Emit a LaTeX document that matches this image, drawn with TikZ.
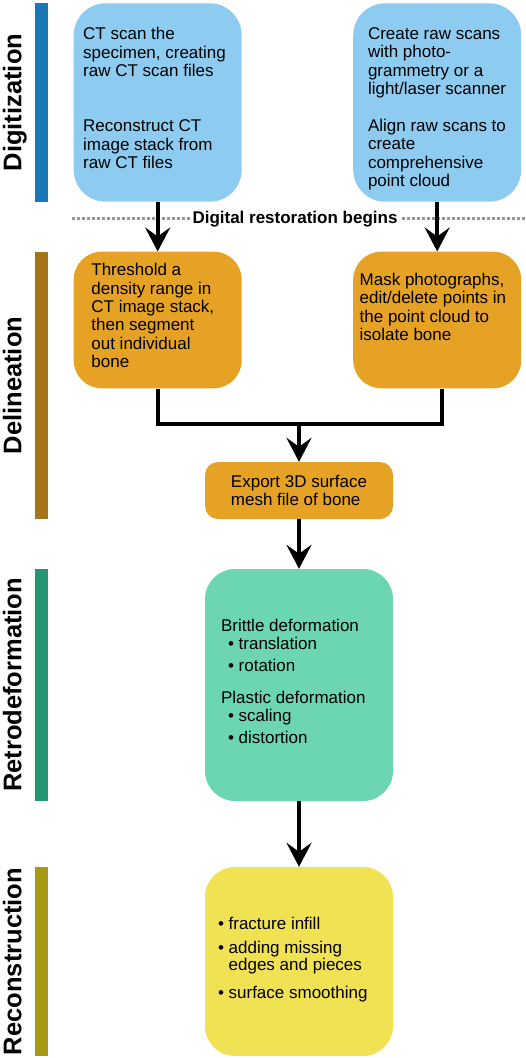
\documentclass[tikz,border=0pt]{standalone}
\usepackage{fontspec}
\setmainfont{Liberation Sans}
\usetikzlibrary{arrows.meta,positioning}
\definecolor{digfill}{RGB}{141,203,240}
\definecolor{digbar}{RGB}{26,120,183}
\definecolor{delfill}{RGB}{230,162,36}
\definecolor{delbar}{RGB}{166,117,25}
\definecolor{retfill}{RGB}{108,214,178}
\definecolor{retbar}{RGB}{36,150,116}
\definecolor{recfill}{RGB}{240,226,82}
\definecolor{recbar}{RGB}{166,152,18}
\definecolor{sepgray}{RGB}{150,150,150}

\begin{document}
\begin{tikzpicture}[x=1pt,y=-1pt,
    box/.style={inner sep=0pt,minimum width=168pt},
    wide/.style={inner sep=0pt,minimum width=188pt},
    txt/.style={inner sep=0pt,align=left,font=\fontsize{17}{18.3}\selectfont},
    bar/.style={inner sep=0pt,minimum width=13pt},
    phase/.style={inner sep=0pt,rotate=90,anchor=base,font=\fontsize{25.5}{28}\selectfont\bfseries},
    arr/.style={line width=3.8pt,-{Stealth[length=24pt,width=25pt,inset=9pt]}}]
        \useasboundingbox (0,0) rectangle (526,1058);

        \node[bar,fill=digbar,minimum height=199pt] (b1) at (41.5,102.5) {};
        \node[bar,fill=delbar,minimum height=267pt] (b2) at (41.5,385.5) {};
        \node[bar,fill=retbar,minimum height=232pt] (b3) at (41.5,685) {};
        \node[bar,fill=recbar,minimum height=189pt] (b4) at (41.5,961.5) {};

        \node[phase] (p1) at ([xshift=-13.5pt]b1.west) {Digitization};
        \node[phase] (p2) at ([xshift=-13.5pt]b2.west) {Delineation};
        \node[phase] (p3) at ([xshift=-13.5pt]b3.west) {Retrodeformation};
        \node[phase] (p4) at ([xshift=-13.5pt]b4.west) {Reconstruction};

        \node[box,fill=digfill,rounded corners=32pt,minimum height=198.4pt] (d1) at (157.7,102.5) {};
        \node[box,fill=digfill,rounded corners=32pt,minimum height=198.4pt] (d2) at (437.2,102.5) {};
        \node[box,fill=delfill,rounded corners=28pt,minimum height=136.6pt] (l1) at (157.7,320) {};
        \node[box,fill=delfill,rounded corners=28pt,minimum height=136.6pt] (l2) at (437.2,320) {};
        \node[wide,txt,fill=delfill,rounded corners=13pt,minimum height=57pt] (ex) at (299,490.5) {Export 3D surface\\mesh file of bone};
        \node[wide,fill=retfill,rounded corners=30pt,minimum height=232pt] (rd) at (299,685) {};
        \node[wide,fill=recfill,rounded corners=30pt,minimum height=189pt] (rc) at (299,961.5) {};

        \node[txt,below right=24.3pt and 9.5pt of d1.north west] (t1) {CT scan the\\specimen, creating\\raw CT scan files\\[37.1pt]Reconstruct CT\\image stack from\\raw CT files};
        \node[txt,below right=24.3pt and 14.8pt of d2.north west] (t2) {Create raw scans\\with photo-\\grammetry or a\\light/laser scanner\\[18.8pt]Align raw scans to\\create\\comprehensive\\point cloud};
        \node[txt,below right=11.8pt and 17.7pt of l1.north west] (t3) {Threshold a\\density range in\\CT image stack,\\then segment\\out individual\\bone};
        \node[txt,below right=21.6pt and 6.5pt of l2.north west] (t4) {Mask photographs,\\edit/delete points in\\the point cloud to\\isolate bone};
        \node[txt,below right=50.3pt and 16pt of rd.north west] (t5) {Brittle deformation\\
            \hspace*{7pt}• translation\\[3.4pt]
            \hspace*{7pt}• rotation\\[13.3pt]
            Plastic deformation\\
            \hspace*{7pt}• scaling\\[3.3pt]
            \hspace*{7pt}• distortion};
        \node[txt,below right=49.9pt and 13pt of rc.north west] (t6) {• fracture infill\\[5.7pt]
            • adding missing\\[-0.6pt]
            \phantom{• }edges and pieces\\[9pt]
            • surface smoothing};

        \coordinate (s1) at (72,218.3);
        \coordinate (s2) at (526,218.3);
        \draw[draw=sepgray,line width=2.5pt,dash pattern=on 2.5pt off 2.5pt] (s1) -- (s2);
        \node[fill=white,inner xsep=3pt,inner ysep=1pt,anchor=base,font=\fontsize{17}{20}\selectfont\bfseries] (dr) at (295,223.3) {Digital restoration begins};

        \coordinate[above=38pt of ex.north] (mg);

        \path [arr] (d1) edge (l1);
        \path [arr] (d2) edge (l2);
        \draw [line width=3.8pt] (l1.south) |- (mg) -| ([xshift=4.5pt]l2.south);
        \path [arr] (mg) edge (ex);
        \path [arr] (ex) edge (rd);
        \path [arr] (rd) edge (rc);
    \end{tikzpicture}
\end{document}
